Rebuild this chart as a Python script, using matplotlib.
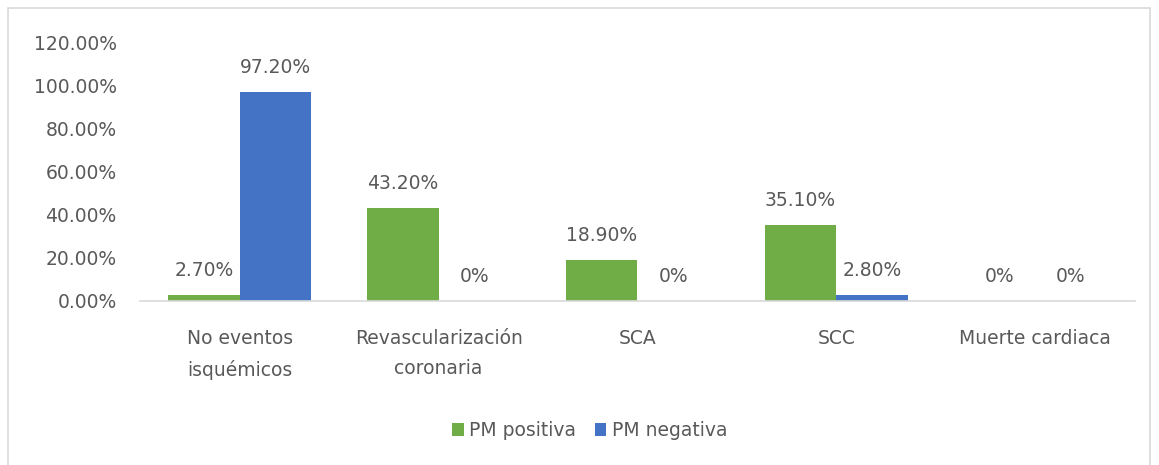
import numpy as np
import matplotlib.pyplot as plt
from matplotlib.patches import Rectangle

categories = ["No eventos\nisquémicos", "Revascularización\ncoronaria", "SCA", "SCC", "Muerte cardiaca"]
pm_positiva = [2.70, 43.20, 18.90, 35.10, 0.0]
pm_negativa = [97.20, 0.0, 0.0, 2.80, 0.0]
series_names = ["PM positiva", "PM negativa"]
yticks = [0, 20, 40, 60, 80, 100, 120]

green = "#70AD47"
blue = "#4472C4"
txt = "#595959"

plt.rcParams['font.family'] = ['DejaVu Sans']

fig = plt.figure(figsize=(11.59, 4.65), dpi=100)
fig.patches.append(Rectangle((8 / 1159, -0.1), 1142 / 1159, 1.1 - 8 / 465,
                             transform=fig.transFigure, fill=False,
                             edgecolor="#d9d9d9", linewidth=1.2))

ax = fig.add_axes([0.121, 0.353, 0.858, 0.5548])

x = np.arange(len(categories))
w = 0.36
b1 = ax.bar(x - w / 2, pm_positiva, w, color=green, label=series_names[0])
b2 = ax.bar(x + w / 2, pm_negativa, w, color=blue, label=series_names[1])


def fmt(v):
    return "0%" if v == 0 else f"{v:.2f}%"


for bars, vals in ((b1, pm_positiva), (b2, pm_negativa)):
    for rect, v in zip(bars, vals):
        ax.annotate(fmt(v), (rect.get_x() + rect.get_width() / 2, v),
                    xytext=(0, 11), textcoords="offset points",
                    ha="center", va="bottom", fontsize=13.5, color=txt)

ax.set_xlim(-0.5, len(categories) - 0.5)
ax.set_ylim(0, 120)
ax.set_yticks(yticks)
ax.set_yticklabels([f"{t:.2f}%" for t in yticks])
ax.set_xticks(x)
ax.set_xticklabels(categories, linespacing=1.75)
ax.tick_params(axis="both", length=0, labelsize=13.5, colors=txt)
ax.tick_params(axis="x", pad=20)
ax.tick_params(axis="y", pad=17)

for s in ("top", "right", "left"):
    ax.spines[s].set_visible(False)
ax.spines["bottom"].set_color("#d9d9d9")
ax.spines["bottom"].set_linewidth(1.2)

leg = fig.legend(handles=[b1, b2], labels=series_names, loc="center",
                 bbox_to_anchor=(0.509, 0.075), ncol=2, frameon=False,
                 fontsize=13.5, handlelength=0.6, handleheight=0.7,
                 handletextpad=0.3, columnspacing=1.0)
for t in leg.get_texts():
    t.set_color(txt)

fig.savefig("out.png", dpi=100)
